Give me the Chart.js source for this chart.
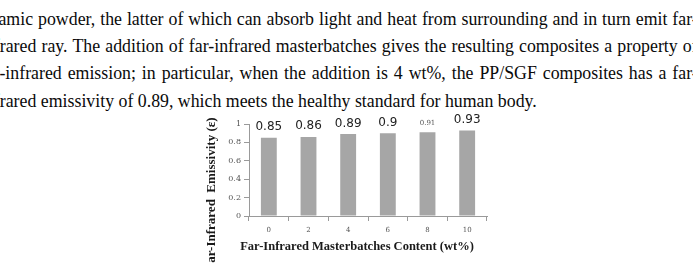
<!DOCTYPE html>
<html>
<head>
<meta charset="utf-8">
<script src="https://cdn.jsdelivr.net/npm/chart.js@4.4.1/dist/chart.umd.min.js"></script>
<style>
  html, body { margin:0; padding:0; }
  body { width:693px; height:263px; overflow:hidden; background:#fff; position:relative; }
  #para { position:absolute; top:4.9px; left:0; font-family:"Liberation Serif", "Times New Roman", serif; font-size:19px; line-height:27.3px; color:#0a0a0a; transform-origin:0 0; white-space:nowrap; }
  #para .j { text-align:justify; text-align-last:justify; }
  #para .first { text-indent:-3.5px; }
  #c { position:absolute; left:0; top:0; }
  .m { position:absolute; visibility:hidden; white-space:nowrap; font-family:"Liberation Serif", "Times New Roman", serif; font-size:19px; }
</style>
</head>
<body>
<div id="para">
  <div class="j first">ceramic powder, the latter of which can absorb light and heat from surrounding and in turn emit far-</div>
  <div class="j">infrared ray. The addition of far-infrared masterbatches gives the resulting composites a property of</div>
  <div class="j">far-infrared emission; in particular, when the addition is 4 wt%, the PP/SGF composites has a far-</div>
  <div>infrared emissivity of 0.89, which meets the healthy standard for human body.</div>
</div>
<span class="m" id="m1">inf</span>
<span class="m" id="m2">infrared emissivity of 0.89, which meets the healthy standard for human body.</span>
<span class="m" id="m3">-</span>
<canvas id="c" width="693" height="280"></canvas>
<script>
// ---- data ----
const categories = ['0', '2', '4', '6', '8', '10'];
const emissivity = [0.85, 0.86, 0.89, 0.90, 0.91, 0.93];
const valueLabels = ['0.85', '0.86', '0.89', '0.9', '0.91', '0.93'];
const yTickValues = [0, 0.2, 0.4, 0.6, 0.8, 1];
const xTitle = 'Far-Infrared Masterbatches Content (wt%)';
const yTitle = 'Far-Infrared  Emissivity (\u03b5)';

// ---- paragraph fitting ----
(function fitText() {
  const nInf = document.getElementById('m1').getBoundingClientRect().width;
  const n4 = document.getElementById('m2').getBoundingClientRect().width;
  const nHy = document.getElementById('m3').getBoundingClientRect().width;
  const s = 537 / (n4 - nInf);
  const L = 0 - s * nInf;
  const R = 692 + s * nHy;
  const para = document.getElementById('para');
  para.style.left = L + 'px';
  para.style.width = ((R - L) / s) + 'px';
  para.style.transform = 'scaleX(' + s + ')';
})();

// ---- chart ----
const tickColor = '#555555';
const axisColor = '#9a9a9a';

const labelPlugin = {
  id: 'valueLabels',
  afterDatasetsDraw(chart) {
    const ctx = chart.ctx;
    const meta = chart.getDatasetMeta(0);
    ctx.save();
    ctx.textAlign = 'center';
    ctx.textBaseline = 'alphabetic';
    meta.data.forEach((bar, i) => {
      if (i === 4) {
        ctx.font = '7px "DejaVu Serif"';
        ctx.fillStyle = '#555';
      } else {
        ctx.font = '12px "DejaVu Sans"';
        ctx.fillStyle = '#222';
      }
      ctx.fillText(valueLabels[i], bar.x, bar.y - 7.5);
    });
    ctx.restore();
  }
};

const titlePlugin = {
  id: 'axisTitles',
  afterDraw(chart) {
    const ctx = chart.ctx;
    const a = chart.chartArea;
    ctx.save();
    ctx.font = 'bold 12.5px "Liberation Serif"';
    ctx.fillStyle = '#1a1a1a';
    ctx.textAlign = 'center';
    ctx.textBaseline = 'middle';
    ctx.fillText(xTitle, a.left + 108, a.bottom + 31);
    ctx.font = 'bold 13px "Liberation Serif"';
    ctx.translate(a.left - 37, a.top + 70);
    ctx.rotate(-Math.PI / 2);
    ctx.fillText(yTitle, 0, 0);
    ctx.restore();
  }
};

new Chart(document.getElementById('c'), {
  type: 'bar',
  data: {
    labels: categories,
    datasets: [{
      data: emissivity,
      backgroundColor: '#a6a6a6',
      borderWidth: 0,
      categoryPercentage: 1.0,
      barPercentage: 0.4
    }]
  },
  options: {
    responsive: false,
    animation: false,
    devicePixelRatio: 1,
    layout: { padding: { left: 219, right: 206, top: 124, bottom: 24 } },
    plugins: { legend: { display: false }, tooltip: { enabled: false } },
    scales: {
      x: {
        afterFit(scale) { scale.height = 40; },
        grid: { offset: true, drawOnChartArea: false, drawTicks: true, tickLength: 5, color: axisColor, lineWidth: 1 },
        border: { display: true, color: axisColor, width: 1 },
        ticks: { color: tickColor, font: { family: 'DejaVu Serif', size: 7 }, padding: 5, maxRotation: 0 }
      },
      y: {
        min: 0, max: 1,
        afterFit(scale) { scale.width = 30; },
        afterBuildTicks(scale) { scale.ticks = yTickValues.map(v => ({ value: v })); },
        grid: { drawOnChartArea: false, drawTicks: true, tickLength: 5, color: axisColor, lineWidth: 1 },
        border: { display: true, color: axisColor, width: 1 },
        ticks: { color: tickColor, font: { family: 'DejaVu Serif', size: 8 }, padding: 3,
                 callback: (v) => String(Math.round(v * 10) / 10) }
      }
    }
  },
  plugins: [labelPlugin, titlePlugin]
});
</script>
</body>
</html>
